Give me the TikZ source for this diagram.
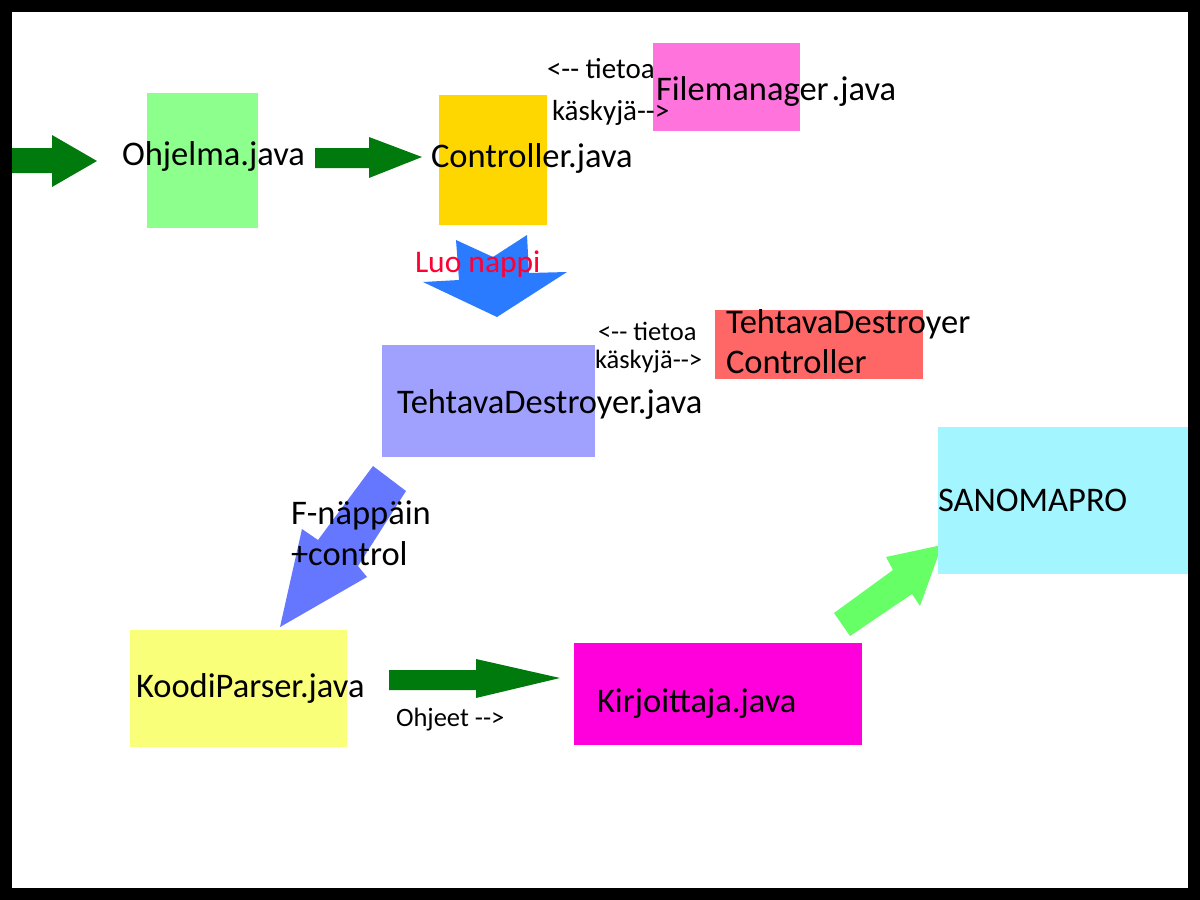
\documentclass[tikz,border=0pt]{standalone}
\usepackage{fontspec}
\setmainfont{Carlito}
\begin{document}
\begin{tikzpicture}[x=1pt,y=-1pt,
  lbl/.style={inner sep=0,outer sep=0,anchor=base west,text=black},
  big/.style={font=\fontsize{34.5}{40}\selectfont},
  mid/.style={font=\fontsize{29}{33}\selectfont},
  sml/.style={font=\fontsize{26.5}{30}\selectfont},
  luo/.style={font=\fontsize{31.5}{36}\selectfont}]
\definecolor{cgreen}{HTML}{8CFF8C}
\definecolor{cgold}{HTML}{FFD700}
\definecolor{cpink}{HTML}{FF73DC}
\definecolor{cblue}{HTML}{2A7BFF}
\definecolor{cviolet}{HTML}{A0A0FF}
\definecolor{cred}{HTML}{FF6666}
\definecolor{cblue2}{HTML}{6677FF}
\definecolor{cyellow}{HTML}{FAFF7A}
\definecolor{cmag}{HTML}{FF00DD}
\definecolor{ccyan}{HTML}{A3F6FF}
\definecolor{dgreen}{HTML}{007A0C}
\definecolor{lgreen}{HTML}{66FF66}
\definecolor{lred}{HTML}{FF0033}
\useasboundingbox (0,0) rectangle (1200,900);
\fill[black] (0,0) rectangle (1200,900);
\fill[white] (12,12) rectangle (1188,888);
% boxes
\fill[cgreen] (147,93) rectangle (258,228);
\fill[cgold] (439,95) rectangle (547,225);
\fill[cpink] (653,43) rectangle (800,131);
\fill[cviolet] (382,345) rectangle (595,457);
\fill[cred] (715,310) rectangle (923,379);
\fill[cyellow] (130,630) rectangle (347,747);
\fill[cmag] (574,643) rectangle (862,745);
% arrows
\fill[dgreen] (12,148) -- (52,148) -- (52,135) -- (97,161) -- (52,187) -- (52,173) -- (12,173) -- cycle;
\fill[dgreen] (315,148) -- (369,148) -- (369,137) -- (422,157) -- (369,178) -- (369,168) -- (315,168) -- cycle;
\fill[cblue] (456,240) -- (493,257) -- (527,235) -- (529,273) -- (567,272) -- (497,317) -- (423,282) -- (459,280) -- cycle;
\fill[cblue2] (373,466) -- (406,491) -- (358,566) -- (367,577) -- (280,627) -- (302,529) -- (318,540) -- cycle;
\fill[dgreen] (389,670) -- (476,670) -- (476,659) -- (560,678) -- (476,698) -- (476,690) -- (389,690) -- cycle;
\fill[lgreen] (834,613) -- (893,570) -- (886,557) -- (942,545) -- (920,606) -- (912,594) -- (850,636) -- cycle;
\fill[ccyan] (938,427) rectangle (1188,574);
% labels
\node[lbl,big] (ohj) at (122,165) {Ohjelma.java};
\node[lbl,big] (con) at (431,167) {Controller.java};
\node[lbl,big] (fm) at (656,100) {Filemanager\kern3pt.java};
\node[lbl,mid] (t1) at (547,78) {<{-}{-} tietoa};
\node[lbl,mid] (k1) at (552,120) {käskyjä{-}{-}>};
\node[lbl,luo,text=lred] (luo) at (415,272) {Luo nappi};
\node[lbl,big] (td) at (397,413) {TehtavaDestroyer.java};
\node[lbl,sml] (t2) at (598,340) {<{-}{-} tietoa};
\node[lbl,sml] (k2) at (595,368) {käskyjä{-}{-}>};
\node[lbl,big] (tdc1) at (726,333) {TehtavaDestroyer};
\node[lbl,big] (tdc2) at (726,373) {Controller};
\node[lbl,big] (fn) at (291,524) {F-näppäin};
\node[lbl,big] (fc) at (291,565) {+control};
\node[lbl,big] (kp) at (136,697) {KoodiParser.java};
\node[lbl,sml] (oh) at (396,726) {Ohjeet {-}{-}>};
\node[lbl,big] (ki) at (597,712) {Kirjoittaja.java};
\node[lbl,big] (sp) at (938,511) {SANOMAPRO};
\end{tikzpicture}
\end{document}
